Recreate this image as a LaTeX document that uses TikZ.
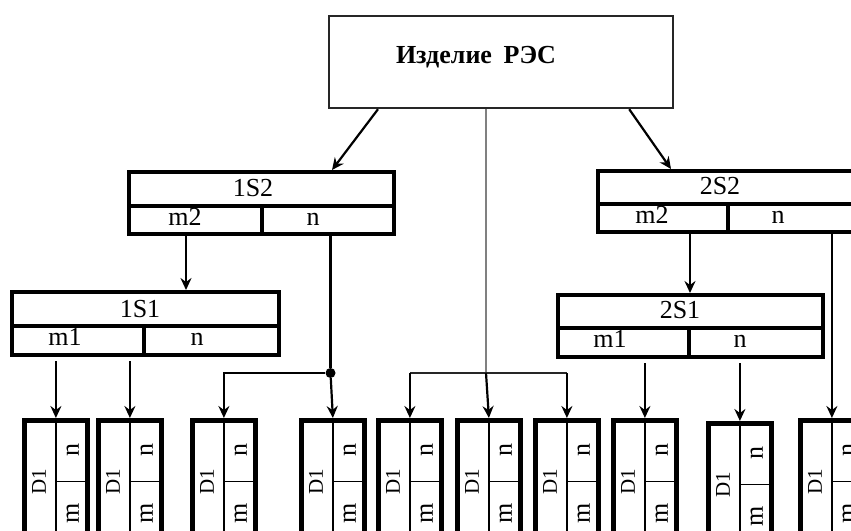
\documentclass[tikz,border=0pt]{standalone}
\usepackage{fontspec}
\setmainfont{Liberation Serif}
\usetikzlibrary{arrows.meta,calc}
\newcommand\DBox[3]{%
  \node[dframe] (#1) at (#2,#3) {};
  \draw[thinline] (#1.north) -- (#1.south);
  \draw[thinline] (#1.center) -- (#1.east);
  \node[dlbl] (#1d) at ($(#1.north)!0.5!(#1.south west)$) {D1};
  \node[nlbl] (#1n) at ($(#1.north east)!0.5!(#1.center)$) {n};
  \node[nlbl] (#1m) at ($(#1.center)!0.5!(#1.south east)$) {m};
}
\begin{document}
\begin{tikzpicture}[x=1pt,y=-1pt,
  topbox/.style={draw=black!85,line width=2.2pt,minimum width=344pt,minimum height=92pt,anchor=north west,inner sep=0pt},
  cell/.style={draw,line width=4.4pt,anchor=north west,inner sep=0pt},
  dframe/.style={draw,line width=4.8pt,minimum width=63pt,minimum height=122pt,anchor=north west,inner sep=0pt},
  thinline/.style={line width=1.5pt},
  arr/.style={line width=2.2pt,-{Stealth[length=12pt,width=11pt,inset=4pt]}},
  conn/.style={line width=2.2pt},
  lbl/.style={font=\fontsize{26}{28}\selectfont,inner sep=0pt,anchor=base},
  dlbl/.style={font=\fontsize{21}{23}\selectfont,rotate=90,inner sep=0pt},
  nlbl/.style={font=\fontsize{26}{28}\selectfont,rotate=90,inner sep=0pt},
  dotnode/.style={circle,fill,inner sep=0pt,minimum size=10pt}
]
\useasboundingbox (0,0) rectangle (851,530);
\fill[white] (0,0) rectangle (851,530);
\clip (0,0) rectangle (851,530);

% top box
\node[topbox] (top) at (328,15) {};
\node[font=\bfseries\fontsize{26}{28}\selectfont,inner sep=0pt,anchor=base] (toplbl) at (476,63) {Изделие\hspace{0.45em}РЭС};

% 1S2
\node[cell,minimum width=265pt,minimum height=34pt] (s12t) at (127,170) {};
\node[cell,minimum width=133pt,minimum height=28pt] (s12m) at (127,204) {};
\node[cell,minimum width=132pt,minimum height=28pt] (s12n) at (260,204) {};
\node[lbl] (s12tl) at (253,196) {1S2};
\node[lbl] (s12ml) at (185,225) {m2};
\node[lbl] (s12nl) at (313,225) {n};

% 1S1
\node[cell,minimum width=267pt,minimum height=34pt] (s11t) at (10,290) {};
\node[cell,minimum width=132pt,minimum height=29pt] (s11m) at (10,324) {};
\node[cell,minimum width=135pt,minimum height=29pt] (s11n) at (142,324) {};
\node[lbl] (s11tl) at (140,317) {1S1};
\node[lbl] (s11ml) at (65,345) {m1};
\node[lbl] (s11nl) at (197,345) {n};

% 2S2
\node[cell,minimum width=264pt,minimum height=33pt] (s22t) at (596,169) {};
\node[cell,minimum width=130pt,minimum height=28pt] (s22m) at (596,202) {};
\node[cell,minimum width=134pt,minimum height=28pt] (s22n) at (726,202) {};
\node[lbl] (s22tl) at (720,194) {2S2};
\node[lbl] (s22ml) at (652,223) {m2};
\node[lbl] (s22nl) at (778,223) {n};

% 2S1
\node[cell,minimum width=265pt,minimum height=33pt] (s21t) at (556,293) {};
\node[cell,minimum width=131pt,minimum height=29pt] (s21m) at (556,326) {};
\node[cell,minimum width=134pt,minimum height=29pt] (s21n) at (687,326) {};
\node[lbl] (s21tl) at (680,318) {2S1};
\node[lbl] (s21ml) at (610,347) {m1};
\node[lbl] (s21nl) at (740,347) {n};

% bottom boxes
\DBox{b1}{22}{418}
\DBox{b2}{96}{418}
\DBox{b3}{190}{418}
\DBox{b4}{299}{418}
\DBox{b5}{376}{418}
\DBox{b6}{455}{418}
\DBox{b7}{533}{418}
\DBox{b8}{611}{418}
\DBox{b9}{706}{421}
\DBox{b10}{798}{418}

% connectors from top box
\draw[arr] ([xshift=50pt]top.south west) -- ([xshift=205pt]s12t.north west);
\draw[arr] ([xshift=-45pt]top.south east) -- ([xshift=75pt]s22t.north west);
\node[dotnode] (dot) at (330.5,373) {};
\coordinate (gtop) at ([xshift=158pt]top.south west);
\coordinate (br) at (gtop |- dot);
\draw[line width=2.2pt,black!50] (gtop) -- (br);
\draw[line width=1.8pt,black!85] (b5.north |- br) -- (b7.north |- br);
\draw[arr] (b5.north |- br) -- (b5.north);
\draw[arr] (br) -- (b6.north);
\draw[arr] (b7.north |- br) -- (b7.north);

% 1S2 connectors
\coordinate (m12) at ([xshift=59pt]s12m.south west);
\draw[arr] (m12) -- (m12 |- s11t.north);
\draw[conn] (dot |- s12n.south) -- (dot);
\draw[arr] (dot) -- (b4.north);
\draw[arr] (dot) -| (b3.north);

% 1S1 connectors
\draw[arr,shorten <=4pt] (b1.north |- s11m.south) -- (b1.north);
\draw[arr,shorten <=4pt] (b2.north |- s11m.south) -- (b2.north);

% 2S2 connectors
\coordinate (m22) at ([xshift=94pt]s22m.south west);
\draw[arr] (m22) -- (m22 |- s21t.north);
\draw[arr] (b10.north |- s22n.south) -- (b10.north);

% 2S1 connectors
\draw[arr,shorten <=4pt] (b8.north |- s21m.south) -- (b8.north);
\draw[arr,shorten <=4pt] (b9.north |- s21n.south) -- (b9.north);
\end{tikzpicture}
\end{document}
